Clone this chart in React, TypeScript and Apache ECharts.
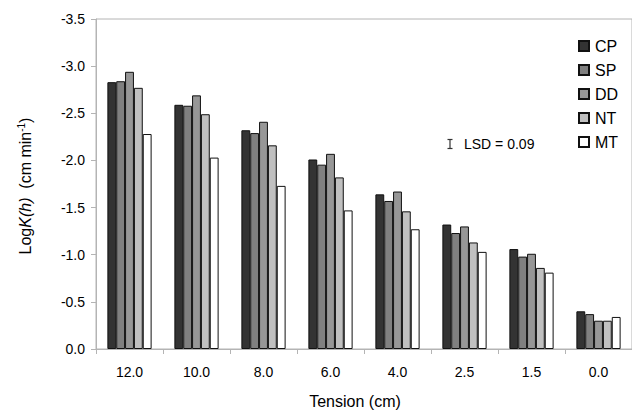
import React, { useEffect, useRef } from "react";
import * as echarts from "echarts";

const categories = ["12.0", "10.0", "8.0", "6.0", "4.0", "2.5", "1.5", "0.0"];
const seriesNames = ["CP", "SP", "DD", "NT", "MT"];
const cpValues = [-2.83, -2.59, -2.32, -2.01, -1.64, -1.32, -1.06, -0.4];
const spValues = [-2.84, -2.58, -2.29, -1.955, -1.57, -1.23, -0.98, -0.37];
const ddValues = [-2.94, -2.69, -2.41, -2.07, -1.67, -1.3, -1.01, -0.3];
const ntValues = [-2.77, -2.49, -2.16, -1.82, -1.46, -1.13, -0.86, -0.3];
const mtValues = [-2.28, -2.03, -1.73, -1.47, -1.27, -1.03, -0.81, -0.34];
const seriesColors = ["#333333", "#808080", "#979797", "#c0c0c0", "#ffffff"];
const lsdText = "LSD = 0.09";

const FONT = "Liberation Sans, Arial, sans-serif";

export default function App() {
  const ref = useRef<HTMLDivElement>(null);
  useEffect(() => {
    if (!ref.current) return;
    const chart = echarts.init(ref.current, null, { renderer: "svg" });
    const allValues = [cpValues, spValues, ddValues, ntValues, mtValues];
    chart.setOption({
      animation: false,
      textStyle: { fontFamily: FONT },
      grid: {
        left: 96,
        top: 19,
        width: 546,
        height: 330,
        show: true,
        borderColor: "#b4b4b4",
        borderWidth: 1,
        backgroundColor: "transparent",
      },
      legend: {
        orient: "vertical",
        left: 578,
        top: 38,
        padding: 0,
        itemWidth: 10,
        itemHeight: 10,
        itemGap: 8,
        icon: "rect",
        textStyle: { fontSize: 16, color: "#000", fontFamily: FONT, padding: [0, 0, 0, 1] },
        data: seriesNames,
      },
      xAxis: {
        type: "category",
        data: categories,
        boundaryGap: true,
        axisLine: { show: true, lineStyle: { color: "#b4b4b4", width: 1 } },
        axisTick: { show: true, alignWithLabel: false, length: 5, lineStyle: { color: "#b4b4b4" } },
        axisLabel: { fontSize: 14, color: "#000", margin: 16, fontFamily: FONT },
        splitLine: { show: false },
      },
      yAxis: {
        type: "value",
        inverse: true,
        min: -3.5,
        max: 0,
        interval: 0.5,
        axisLine: { show: true, lineStyle: { color: "#b4b4b4", width: 1 } },
        axisTick: { show: true, length: 5, lineStyle: { color: "#b4b4b4" } },
        axisLabel: {
          fontSize: 14,
          color: "#000",
          margin: 11,
          fontFamily: FONT,
          formatter: (v: number) => (Math.abs(v) < 1e-9 ? "0.0" : v.toFixed(1)),
        },
        splitLine: { show: false },
      },
      series: seriesNames.map((name, i) => ({
        name,
        type: "bar",
        data: allValues[i],
        barGap: "0%",
        barCategoryGap: "34%",
        itemStyle: { color: seriesColors[i], borderColor: "#111", borderWidth: 1 },
      })),
      graphic: [
        {
          type: "text",
          x: 355,
          y: 401,
          style: {
            text: "Tension (cm)",
            font: `16px ${FONT}`,
            fill: "#000",
            align: "center",
            verticalAlign: "middle",
          },
        },
        {
          type: "text",
          x: 25,
          y: 186,
          rotation: Math.PI / 2,
          style: {
            text: "Log{i|K(h)}  (cm min{s|-1})",
            fontSize: 16,
            fontFamily: FONT,
            fill: "#000",
            align: "center",
            verticalAlign: "middle",
            rich: {
              i: { fontSize: 16, fontStyle: "italic", fontFamily: FONT, fill: "#000" },
              s: { fontSize: 10, fontFamily: FONT, fill: "#000", verticalAlign: "top", padding: [0, 0, 8, 0] },
            },
          },
        },
        {
          type: "line",
          shape: { x1: 450, y1: 139.5, x2: 450, y2: 148.5 },
          style: { stroke: "#333", lineWidth: 1.2 },
        },
        {
          type: "line",
          shape: { x1: 447.5, y1: 139.5, x2: 452.5, y2: 139.5 },
          style: { stroke: "#333", lineWidth: 1.2 },
        },
        {
          type: "line",
          shape: { x1: 447.5, y1: 148.5, x2: 452.5, y2: 148.5 },
          style: { stroke: "#333", lineWidth: 1.2 },
        },
        {
          type: "text",
          x: 464,
          y: 144,
          style: {
            text: lsdText,
            font: `14px ${FONT}`,
            fill: "#000",
            align: "left",
            verticalAlign: "middle",
          },
        },
      ],
    });
    return () => chart.dispose();
  }, []);
  return (
    <div
      ref={ref}
      style={{ position: "absolute", left: 0, top: 0, width: 632, height: 410, background: "#fff" }}
    />
  );
}
